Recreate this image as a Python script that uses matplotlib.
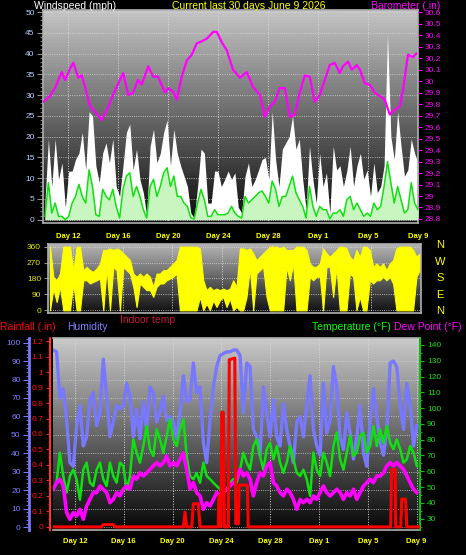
import matplotlib.pyplot as plt
import numpy as np
from matplotlib.colors import LinearSegmentedColormap
from matplotlib.ticker import MultipleLocator

plt.rcParams['font.family'] = ['Liberation Sans', 'DejaVu Sans']

# ---------------- data ----------------
day_ticks = [12, 16, 20, 24, 28, 32, 36, 40]
day_labels = ['Day 12', 'Day 16', 'Day 20', 'Day 24', 'Day 28', 'Day 1', 'Day 5', 'Day 9']

# wind (mph), samples about every 6 h from May 10 to June 9
wind_gust = [4.4, 19.4, 8, 19.4, 9.7, 13.7, 3, 11.7, 11.7, 14.5, 16, 21, 12, 26, 25, 13, 9, 16,
             18.5, 13.7, 19.4, 8, 5.6, 13, 21, 23, 12, 17, 9.7, 6.5, 1, 17.7, 21.8, 13.7, 16, 21,
             24, 13, 21.8, 16, 13, 10.5, 8, 1.6, 0.4, 8, 17, 16, 4, 4, 11.7, 11.7, 8, 9.7, 11.7,
             9.7, 11.3, 3, 1.6, 10.5, 13.7, 8, 9.7, 12, 14.5, 15, 9.7, 26, 14.5, 8, 17, 18.5, 20,
             25, 17, 19.4, 9.7, 2.4, 17.7, 9.7, 4, 16, 8, 11.3, 1.6, 17.7, 12, 13, 8, 11.7, 17.7,
             8, 13, 16, 9.7, 12, 5.6, 13.7, 6.5, 8, 13, 45, 20, 14.5, 26, 17.7, 10.5, 12, 19.4,
             16, 13.7]
wind_avg = [0.8, 8.9, 1.6, 4, 0.8, 0.8, 0, 0.8, 4, 5.6, 8.5, 5.6, 4, 12, 8, 1.2, 0.8, 7.3, 5.6,
            4.8, 7.3, 3.2, 0.4, 7.3, 10.5, 11.3, 5.6, 8, 5.6, 2.4, 0.4, 8, 9.7, 5.6, 8, 11.3, 12.5,
            8, 10.5, 5.6, 5.6, 4, 3.2, 0.4, 0.2, 4, 7.3, 4.8, 0.8, 0.8, 2.4, 1.2, 1.2, 1.2, 1.6,
            3.2, 1.6, 0.8, 0.4, 5.6, 4, 4.8, 5.6, 6.5, 6.9, 5.6, 4, 9.3, 7.3, 3.2, 5.6, 5.6, 8,
            10.5, 6.5, 4.8, 3.2, 0.4, 8, 3.2, 0.8, 3.2, 2.4, 2.4, 0.2, 1.6, 1.6, 2.4, 0.8, 4.8,
            5.6, 2.4, 4, 2.4, 0.8, 1.6, 0.8, 4, 2.4, 3.2, 8, 14, 8.9, 4, 8, 4.8, 1.6, 2.4, 8.9,
            4, 2.4]

# barometer (in), day of month counted from May (June 1 = 32)
baro_day = [10.0, 10.56, 10.96, 11.5, 11.76, 12.16, 12.42, 12.82, 13.1, 13.44, 13.76, 14.3,
            14.7, 15.1, 15.76, 16.42, 16.82, 17.2, 17.6, 17.9, 18.42, 18.8, 19.2, 19.76, 20.0,
            20.4, 20.7, 21.1, 21.5, 21.9, 22.3, 22.56, 23.1, 23.62, 23.9, 24.3, 24.7, 25.2,
            25.76, 26.3, 26.8, 27.36, 27.74, 28.14, 28.54, 28.94, 29.34, 29.74, 30.14, 30.54,
            30.94, 31.34, 31.74, 32.14, 32.54, 32.94, 33.34, 33.74, 34.0, 34.4, 34.7, 35.1,
            35.36, 35.74, 36.14, 36.54, 36.94, 37.34, 37.74, 38.14, 38.54, 38.8, 39.2, 39.6,
            39.86]
baro_in = [29.82, 29.87, 29.94, 30.08, 30.01, 30.11, 30.16, 30.03, 30.05, 29.92, 29.78, 29.72,
           29.66, 29.75, 29.92, 30.07, 29.88, 29.90, 30.01, 29.97, 30.13, 30.04, 30.04, 29.90,
           29.94, 29.91, 29.84, 30.04, 30.18, 30.23, 30.33, 30.34, 30.37, 30.43, 30.43, 30.34,
           30.27, 30.10, 30.03, 30.08, 29.95, 29.88, 29.69, 29.78, 29.82, 29.94, 29.94, 29.69,
           29.71, 29.90, 30.05, 30.04, 29.82, 29.88, 30.01, 30.14, 30.16, 30.07, 30.13, 30.17,
           30.10, 30.14, 30.10, 29.98, 29.97, 29.90, 29.87, 29.84, 29.71, 29.75, 29.78, 29.92,
           30.23, 30.21, 30.24]

# wind direction band (deg): lowest and highest reading in each slot
dir_lo = [0, 123, 47, 133, 0, 0, 0, 152, 0, 0, 170, 170, 152, 161, 170, 180, 0, 246, 0, 246,
          227, 0, 246, 227, 208, 133, 19, 152, 133, 114, 114, 76, 133, 152, 152, 170, 180, 190,
          208, 0, 0, 0, 0, 0, 0, 76, 0, 38, 0, 57, 19, 57, 76, 19, 66,
          0, 19, 0, 0, 76, 246, 0, 208, 227, 246, 76, 0, 0, 0, 0, 0, 246, 170, 265, 0, 0, 0, 0,
          190, 170, 190, 190, 0, 246, 246, 76, 246, 0, 0, 0, 208, 190, 0, 76, 0, 0, 170, 152,
          170, 170, 190, 170, 190, 152, 0, 0, 0, 0, 0, 0, 190, 227]
dir_hi = [360, 190, 170, 208, 360, 360, 360, 227, 360, 360, 227, 246, 227, 218, 237, 265, 341,
          341, 350, 341, 350, 341, 322, 303, 284, 208, 190, 208, 190, 208, 190, 133, 208, 208,
          227, 227, 246, 265, 284, 360, 360, 360, 360, 360, 360, 350, 170, 114, 133, 114, 123,
          114, 123, 114, 123,
          170, 133, 350, 350, 341, 350, 322, 284, 303, 322, 341, 360, 360, 360, 350, 360, 341,
          341, 341, 360, 360, 360, 341, 265, 246, 246, 265, 350, 322, 303, 322, 341, 360, 360,
          350, 303, 284, 341, 303, 360, 360, 341, 246, 265, 246, 265, 227, 265, 284, 350, 360,
          360, 360, 360, 341, 303, 322]

# humidity (%), temperature and dew point (F)
humidity = [96, 95, 70, 75, 58, 35, 33, 55, 66, 44, 49, 69, 73, 55, 62, 91, 71, 49, 57, 66, 64,
            66, 78, 71, 49, 64, 48, 68, 53, 76, 73, 57, 62, 71, 58, 60, 57, 48, 62, 82, 68, 69,
            89, 73, 76, 46, 35, 58, 76, 87, 93, 94, 95, 95, 96,
            96, 93, 62, 89, 87, 53, 49, 39, 76, 62, 49, 69, 49, 44, 67, 53, 44, 35, 57, 60, 49,
            66, 82, 53, 44, 39, 78, 51, 58, 87, 76, 49, 42, 62, 51, 37, 49, 66, 40, 33, 58, 75,
            60, 46, 39, 53, 89, 90, 87, 66, 53, 78, 67, 44, 55]
temperature = [48.6, 52.8, 71.8, 57, 46.5, 57, 61, 55, 42, 61, 65.5, 52.8, 50.7, 61, 65.5, 55,
               50.7, 65.5, 57, 52.8, 65.5, 63.4, 48.6, 57, 80.2, 71.8, 65.5, 76, 88.7, 74, 69.7,
               86.6, 80.2, 71.8, 82.4, 93, 80.2, 76, 86.6, 93, 69.7, 57, 55, 59, 52.8, 65.5, 57,
               55, 52.8, 50.7, 48.6, 46.5, 48.6, 52.8, 55,
               52.8, 61, 71.8, 65.5, 61, 76, 80.2, 69.7, 61, 74, 78, 67.6, 76, 65.5, 59, 65.5,
               76, 67.6, 59, 57, 61, 55, 44.4, 71.8, 61, 57, 71.8, 65.5, 57, 76, 84.5, 67.6, 61,
               71.8, 82.4, 69.7, 71.8, 82.4, 84.5, 71.8, 76, 88.7, 76, 86.6, 78, 88.7, 78, 74,
               80.2, 74, 65.5, 67.6, 76, 71.8, 63.4]
dew_point = [48.6, 52.8, 55, 50.7, 33.8, 29.6, 33.8, 31.7, 35.9, 29.6, 38, 42.2, 46.5, 46.5,
             50.7, 48.6, 46.5, 40.1, 42.2, 46.5, 44.4, 48.6, 50.7, 48.6, 57, 55, 59, 57, 59,
             61.2, 63.4, 65.5, 63.4, 65.5, 69.7, 63.4, 65.5, 63.4, 67.6, 71.8, 61.2, 48.6, 52.8,
             46.5, 44.4, 35.9, 40.1, 38, 42.2, 46.5, 44.4, 46.5, 48.6, 50.7, 52.8,
             55, 61.2, 57, 59, 55, 44.4, 52.8, 59, 57, 63.4, 65.5, 52.8, 50.7, 46.5, 44.4, 48.6,
             46.5, 42.2, 35.9, 42.2, 40.1, 42.2, 40.1, 44.4, 42.2, 46.5, 50.7, 46.5, 44.4, 46.5,
             48.6, 46.5, 42.2, 46.5, 44.4, 48.6, 42.2, 46.5, 50.7, 52.8, 55, 52.8, 57, 57, 59,
             63.4, 65.5, 63.4, 65.5, 63.4, 61.2, 57, 52.8, 48.6, 46.5]

# rainfall (in)
rain_day = [10.2, 14.19, 14.32, 15.14, 15.28, 20.88, 21.02, 21.16, 21.57, 21.70, 22.11, 22.25,
            23.75, 23.8, 23.89, 23.95, 24.03, 24.16, 24.25, 24.57, 24.65, 25.1, 25.18, 25.4,
            25.45, 26.13, 26.2, 37.88, 37.95, 38.25, 38.29, 38.7, 38.78, 39.1, 39.2, 40.3]
rain_in = [0, 0, 0.015, 0.015, 0, 0, 0.095, 0, 0, 0.15, 0.15, 0, 0, 0.2, 0.2, 0, 0.74, 0.74,
           0, 0, 1.08, 1.09, 0.02, 0.02, 0.27, 0.27, 0, 0, 0.37, 0.37, 0, 0, 0.18, 0.18, 0, 0]

# ---------------- figure ----------------
W, H = 466, 555
fig = plt.figure(figsize=(W / 100, H / 100), dpi=100, facecolor='black')


def box(l, t, r, b):
    return [l / W, 1 - b / H, (r - l) / W, (b - t) / H]


def shade(ax, top, bottom):
    cm = LinearSegmentedColormap.from_list('bg', [bottom, top])
    ax.imshow(np.linspace(0, 1, 64).reshape(-1, 1), cmap=cm, aspect='auto',
              extent=(0, 1, 0, 1), transform=ax.transAxes, origin='lower', zorder=0)


def day_axis(ax, pad, show=True):
    ax.set_xticks(day_ticks)
    ax.set_xticklabels(day_labels if show else [])
    ax.tick_params(axis='x', length=0, pad=pad, labelsize=5.5, labelcolor='#ffff00')
    for t in ax.get_xticklabels():
        t.set_fontweight('bold')
    ax.grid(axis='x', color='#d8d8d8', ls=':', lw=0.7)
    ax.set_axisbelow(True)


def frame(ax, col='#b0b0b0'):
    for s in ax.spines.values():
        s.set_color(col)
        s.set_linewidth(1.2)


def txt(x, y, s, c, size=7.5, **kw):
    fig.text(x / W, 1 - y / H, s, color=c, fontsize=size, va='center', **kw)


# ---- wind speed + barometer ----
ax1 = fig.add_axes(box(43, 10, 418, 223))
shade(ax1, '#c4c4c4', '#0c0c0c')
tw = np.linspace(10.16, 40.0, len(wind_gust))
ax1.fill_between(tw, wind_gust, color='white', lw=0, zorder=2)
tw2 = np.linspace(10.16, 40.0, len(wind_avg))
ax1.fill_between(tw2, wind_avg, color='#c8f5c0', lw=0, zorder=3)
ax1.plot(tw2, wind_avg, color='#10e010', lw=1.1, zorder=4)
ax1.set_xlim(10, 40)
ax1.set_ylim(-0.8, 50.5)
ax1.yaxis.set_major_locator(MultipleLocator(5))
ax1.yaxis.set_minor_locator(MultipleLocator(1))
ax1.tick_params(axis='y', which='both', color='#909090', labelcolor='#b8d0ff',
                labelsize=6, pad=2)
ax1.tick_params(axis='y', which='major', length=4)
ax1.tick_params(axis='y', which='minor', length=2)
ax1.grid(axis='y', color='#d8d8d8', ls=':', lw=0.6)
day_axis(ax1, 7)
frame(ax1)

ax1b = ax1.twinx()
ax1b.plot(baro_day, baro_in, color='#ff00ff', lw=1.6, zorder=5)
ax1b.set_ylim(28.765, 30.62)
ax1b.yaxis.set_major_locator(MultipleLocator(0.1))
ax1b.yaxis.set_major_formatter(lambda v, p: f'{round(v, 1):g}')
ax1b.tick_params(axis='y', colors='#ff00ff', labelsize=6, length=3, pad=2)
for s in ax1b.spines.values():
    s.set_visible(False)

txt(34, 6, 'Windspeed (mph)', 'white')
txt(172, 6, 'Current last 30 days June 9 2026', '#ffff00')
txt(371, 6, 'Barometer (.in)', '#ff00ff')

# ---- wind direction ----
ax2 = fig.add_axes(box(48, 244, 421, 313))
shade(ax2, '#b4b4b4', '#101010')
td = np.linspace(10.16, 39.9, len(dir_lo))
ax2.fill_between(td, dir_lo, dir_hi, color='#ffff00', lw=0.8, edgecolor='#ffff00', zorder=2)
ax2.set_xlim(10, 40)
ax2.set_ylim(-15, 375)
ax2.set_yticks([0, 90, 180, 270, 360])
ax2.tick_params(axis='y', colors='#909090', labelcolor='#e8e800', labelsize=6, length=3, pad=2)
ax2.grid(axis='y', color='#d8d8d8', ls=':', lw=0.6)
day_axis(ax2, 2, show=False)
frame(ax2)
for i, c in enumerate('NWSEN'):
    txt(440, 245 + i * 16.5, c, '#ffff00', size=8, ha='center')

# ---- humidity / temperature / rain ----
ax3 = fig.add_axes(box(53, 338, 420, 530))
shade(ax3, '#c8c8c8', '#080808')
ax3.set_xlim(10.2, 40.28)
ax3.set_ylim(-0.02, 1.22)
ax3.yaxis.set_major_locator(MultipleLocator(0.1))
ax3.yaxis.set_minor_locator(MultipleLocator(0.05))
ax3.yaxis.set_major_formatter(lambda v, p: f'{round(v, 1):g}')
ax3.tick_params(axis='y', which='both', color='#ff2020', labelcolor='#ff1010',
                labelsize=6, pad=2)
ax3.tick_params(axis='y', which='major', length=3)
ax3.tick_params(axis='y', which='minor', length=1.5)
day_axis(ax3, 6)
frame(ax3)
ax3.spines['left'].set_position(('outward', 2.2))
ax3.spines['left'].set_color('#ff3030')
ax3.spines['left'].set_linestyle((0, (2, 1)))
ax3.spines['left'].set_linewidth(1.5)

axh = ax3.twinx()
axh.yaxis.tick_left()
axh.spines['left'].set_visible(True)
axh.spines['left'].set_position(('outward', 17.3))
axh.spines['left'].set_color('#7878ff')
axh.spines['left'].set_linewidth(2)
for k in ('right', 'top', 'bottom'):
    axh.spines[k].set_visible(False)
axh.set_ylim(-1.5, 102.5)
axh.yaxis.set_major_locator(MultipleLocator(10))
axh.yaxis.set_minor_locator(MultipleLocator(2))
axh.tick_params(axis='y', which='both', color='#7878ff', labelcolor='#8080ff',
                labelsize=6, pad=2)
axh.tick_params(axis='y', which='major', length=4)
axh.tick_params(axis='y', which='minor', length=2)
axh.grid(axis='y', color='#d0d0d0', ls=':', lw=0.6)
axh.set_axisbelow(True)
tb = np.linspace(10.22, 40.02, len(humidity))
axh.plot(tb, humidity, color='#7878ff', lw=2.4)

axt = ax3.twinx()
for k in ('left', 'top', 'bottom'):
    axt.spines[k].set_visible(False)
axt.spines['right'].set_color('#10c010')
axt.spines['right'].set_linestyle((0, (2, 1)))
axt.spines['right'].set_linewidth(1.5)
axt.set_ylim(22.8, 144.4)
axt.set_yticks(range(30, 150, 10))
axt.yaxis.set_minor_locator(MultipleLocator(5))
axt.tick_params(axis='y', which='both', color='#10c010', labelcolor='#10e010',
                labelsize=6, pad=2)
axt.tick_params(axis='y', which='major', length=3)
axt.tick_params(axis='y', which='minor', length=1.5)
tt = np.linspace(10.22, 40.02, len(temperature))
axt.plot(tt, temperature, color='#10e010', lw=1.8)
tdp = np.linspace(10.22, 40.02, len(dew_point))
axt.plot(tdp, dew_point, color='#ff00ff', lw=2.6)

axr = ax3.twinx()
axr.set_ylim(ax3.get_ylim())
axr.axis('off')
axr.plot(rain_day, rain_in, color='#ff0000', lw=2.2)

txt(0, 327, 'Rainfall (.in)', '#ff0000')
txt(67, 327, 'Humidity', '#8080ff')
txt(120, 320, 'Indoor temp', '#c8143c')
txt(312, 327, 'Temperature (\u00b0F)', '#00ff00')
txt(394, 327, 'Dew Point (\u00b0F)', '#ff00ff')

fig.savefig('out.png', dpi=100, facecolor='black')
